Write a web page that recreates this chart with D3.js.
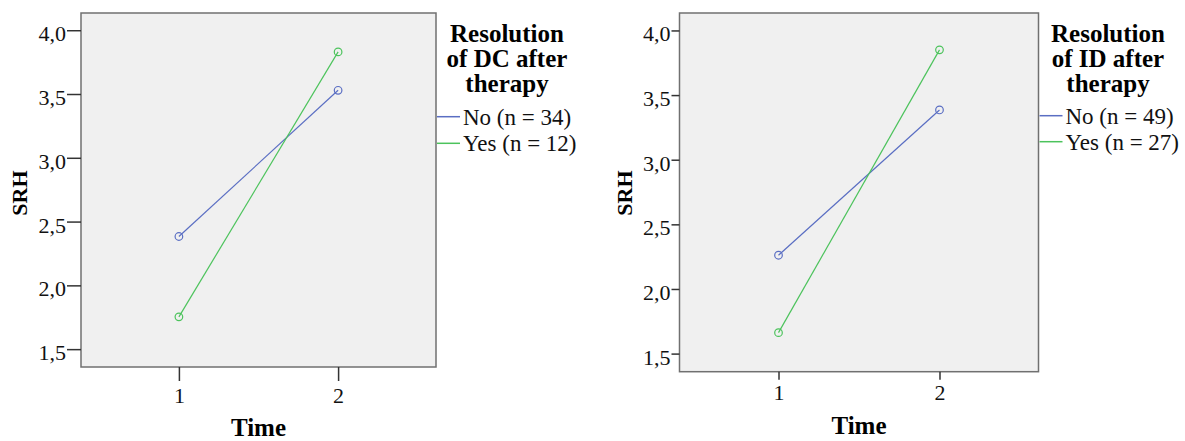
<!DOCTYPE html>
<html>
<head>
<meta charset="utf-8">
<script src="https://cdn.jsdelivr.net/npm/d3@7"></script>
<style>
  body { margin: 0; background: #fff; }
  svg text { font-family: "Liberation Serif", "Times New Roman", Tinos, "DejaVu Serif", serif !important; }
</style>
</head>
<body>
<svg id="chart" width="1185" height="441"></svg>
<script>
// Time points and tick values
const timePoints = [1, 2];
const yTicks = [1.5, 2.0, 2.5, 3.0, 3.5, 4.0];

// Left panel: Resolution of DC after therapy
const dcTitle = ['Resolution', 'of DC after', 'therapy'];
const dcLabels = ['No (n = 34)', 'Yes (n = 12)'];
const dcNo = [2.383, 3.529];
const dcYes = [1.753, 3.83];

// Right panel: Resolution of ID after therapy
const idTitle = ['Resolution', 'of ID after', 'therapy'];
const idLabels = ['No (n = 49)', 'Yes (n = 27)'];
const idNo = [2.261, 3.385];
const idYes = [1.662, 3.85];

const seriesColors = ['#5a6ec3', '#4cc35c'];

// comma as decimal separator (like SPSS output)
const locale = d3.formatLocale({ decimal: ',', thousands: '.', grouping: [3], currency: ['', ''] });
const fmt = locale.format('.1f');

const svg = d3.select('#chart');

function drawPanel(cfg) {
  const g = svg.append('g');

  const x = d3.scaleLinear().domain([0.385, 2.615]).range([cfg.left, cfg.right]);
  const y = d3.scaleLinear().domain([1.36, 4.135]).range([cfg.bottom, cfg.top]);

  // plot background
  g.append('rect')
    .attr('x', cfg.left)
    .attr('y', cfg.top)
    .attr('width', cfg.right - cfg.left)
    .attr('height', cfg.bottom - cfg.top)
    .attr('fill', '#f0f0f0')
    .attr('stroke', '#707070')
    .attr('stroke-width', 1.5);

  // y axis
  const yAxis = g.append('g')
    .attr('transform', `translate(${cfg.left},0)`)
    .call(d3.axisLeft(y).tickValues(yTicks).tickFormat(fmt).tickSize(cfg.tick).tickPadding(1));
  yAxis.select('.domain').remove();
  yAxis.selectAll('line').attr('stroke', '#333').attr('stroke-width', 1.5);
  yAxis.selectAll('text')
    .attr('fill', '#111')
    .attr('dy', null)
    .attr('y', 10.5)
    .style('font-size', '22px');

  // x axis
  const xAxis = g.append('g')
    .attr('transform', `translate(0,${cfg.bottom})`)
    .call(d3.axisBottom(x).tickValues(timePoints).tickFormat(d3.format('d')).tickSize(cfg.tick));
  xAxis.select('.domain').remove();
  xAxis.selectAll('line').attr('stroke', '#333').attr('stroke-width', 1.5);
  xAxis.selectAll('text')
    .attr('fill', '#111')
    .attr('dy', null)
    .attr('y', cfg.xLabelY)
    .style('font-size', '22px');

  // axis titles
  g.append('text')
    .attr('x', (cfg.left + cfg.right) / 2)
    .attr('y', cfg.timeY)
    .attr('text-anchor', 'middle')
    .style('font-size', '25px')
    .style('font-weight', 'bold')
    .text('Time');

  g.append('text')
    .attr('transform', `translate(${cfg.srhX},193) rotate(-90)`)
    .attr('text-anchor', 'middle')
    .style('font-size', '22px')
    .style('font-weight', 'bold')
    .text('SRH');

  // lines + hollow markers
  const line = d3.line().x((d, i) => x(timePoints[i])).y(d => y(d));
  cfg.series.forEach((vals, si) => {
    g.append('path')
      .datum(vals)
      .attr('d', line)
      .attr('fill', 'none')
      .attr('stroke', seriesColors[si])
      .attr('stroke-width', 1.2);
    g.selectAll(null)
      .data(vals)
      .enter()
      .append('circle')
      .attr('cx', (d, i) => x(timePoints[i]))
      .attr('cy', d => y(d))
      .attr('r', 3.8)
      .attr('fill', 'none')
      .attr('stroke', seriesColors[si])
      .attr('stroke-width', 1.2);
  });

  // legend
  const leg = g.append('g');
  cfg.title.forEach((t, i) => {
    leg.append('text')
      .attr('x', cfg.legCx)
      .attr('y', 41.5 + i * 25)
      .attr('text-anchor', 'middle')
      .style('font-size', '25px')
      .style('font-weight', 'bold')
      .text(t);
  });
  cfg.labels.forEach((lab, i) => {
    const ly = cfg.legY[i];
    leg.append('line')
      .attr('x1', cfg.right + 1)
      .attr('x2', cfg.right + 24)
      .attr('y1', ly)
      .attr('y2', ly)
      .attr('stroke', seriesColors[i])
      .attr('stroke-width', 1.5);
    leg.append('text')
      .attr('x', cfg.right + 27)
      .attr('y', ly + 8)
      .style('font-size', '23px')
      .attr('fill', '#111')
      .text(lab);
  });
}

drawPanel({
  left: 81, right: 436, top: 13, bottom: 367,
  tick: 14, xLabelY: 36, timeY: 436, srhX: 27,
  series: [dcNo, dcYes], title: dcTitle, labels: dcLabels,
  legCx: 507, legY: [116.7, 143.3]
});

drawPanel({
  left: 679.5, right: 1038.5, top: 13, bottom: 371.7,
  tick: 8, xLabelY: 28, timeY: 434, srhX: 632,
  series: [idNo, idYes], title: idTitle, labels: idLabels,
  legCx: 1108, legY: [115.7, 141.7]
});
</script>
</body>
</html>
